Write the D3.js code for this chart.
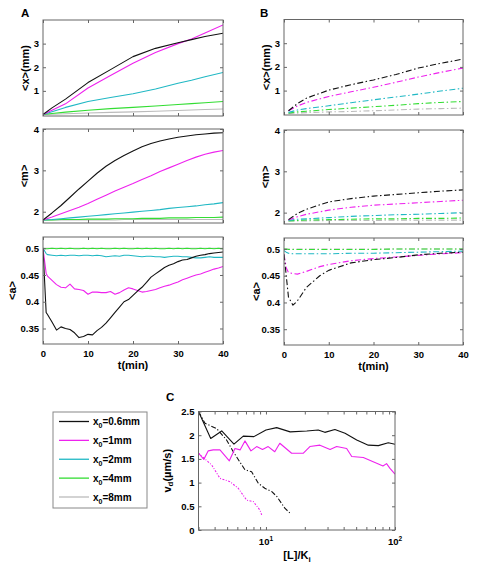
<!DOCTYPE html>
<html><head><meta charset="utf-8">
<script src="https://cdn.jsdelivr.net/npm/d3@7"></script>
<style>
body{margin:0;background:#fff}
svg text{font-family:"Liberation Sans",Arial,sans-serif;font-weight:bold;fill:#000}
</style>
</head><body><svg id="c" width="490" height="568"></svg>
<script>
// ---------------- DATA ----------------
const seriesNames = ["0.6mm", "1mm", "2mm", "4mm", "8mm"];

// Panel A: <x>(mm)
const tAx = [0, 2, 5, 10, 15, 20, 25, 30, 33, 36, 40];
const Ax_06 = [0, 0.28, 0.65, 1.35, 1.9, 2.45, 2.8, 3.04, 3.17, 3.3, 3.44];
const Ax_1  = [0, 0.18, 0.45, 1.12, 1.65, 2.17, 2.62, 3.0, 3.2, 3.45, 3.79];
const Ax_2  = [0, 0.12, 0.3, 0.55, 0.72, 0.88, 1.08, 1.32, 1.45, 1.6, 1.78];
const Ax_4  = [0, 0.04, 0.1, 0.18, 0.25, 0.3, 0.36, 0.42, 0.46, 0.5, 0.55];
const Ax_8  = [0, 0.01, 0.03, 0.06, 0.09, 0.11, 0.14, 0.17, 0.19, 0.21, 0.23];

// Panel A: <m>
const tAm = [0, 2, 4, 6, 8, 10, 12, 14, 16, 18, 20, 22, 24, 26, 28, 30, 32, 34, 36, 38, 40];
const Am_06 = [1.8, 1.97, 2.15, 2.35, 2.55, 2.74, 2.93, 3.1, 3.24, 3.36, 3.47, 3.57, 3.65, 3.71, 3.76, 3.8, 3.83, 3.86, 3.88, 3.9, 3.91];
const Am_1  = [1.8, 1.87, 1.95, 2.03, 2.11, 2.2, 2.3, 2.4, 2.5, 2.59, 2.68, 2.78, 2.87, 2.97, 3.06, 3.15, 3.24, 3.32, 3.39, 3.44, 3.48];
const Am_2  = [1.8, 1.81, 1.83, 1.85, 1.87, 1.89, 1.91, 1.93, 1.95, 1.97, 1.99, 2.01, 2.03, 2.05, 2.08, 2.1, 2.12, 2.14, 2.17, 2.19, 2.22];
const Am_4  = [1.8, 1.8, 1.81, 1.81, 1.81, 1.82, 1.82, 1.82, 1.83, 1.83, 1.83, 1.84, 1.84, 1.84, 1.85, 1.85, 1.85, 1.86, 1.86, 1.86, 1.87];
const Am_8  = [1.8, 1.8, 1.8, 1.8, 1.8, 1.8, 1.8, 1.8, 1.8, 1.81, 1.81, 1.81, 1.81, 1.81, 1.81, 1.81, 1.81, 1.81, 1.81, 1.81, 1.81];

// Panel A: <a>
const tAa = [0, 0.7, 1, 2, 3, 4, 5, 6, 7, 8, 9, 10, 11, 12, 13, 14, 15, 16, 17, 18, 19, 20, 21, 22, 23, 24, 25, 26, 27, 28, 29, 30, 31, 32, 33, 34, 35, 36, 37, 38, 39, 40];
const Aa_06 = [0.5, 0.38, 0.376, 0.362, 0.347, 0.353, 0.35, 0.348, 0.342, 0.333, 0.335, 0.339, 0.338, 0.346, 0.352, 0.36, 0.37, 0.38, 0.39, 0.4, 0.404, 0.412, 0.42, 0.427, 0.436, 0.446, 0.452, 0.458, 0.464, 0.468, 0.471, 0.475, 0.478, 0.479, 0.482, 0.485, 0.487, 0.488, 0.49, 0.491, 0.492, 0.493];
const Aa_1  = [0.5, 0.453, 0.448, 0.44, 0.432, 0.427, 0.426, 0.433, 0.424, 0.423, 0.421, 0.414, 0.418, 0.418, 0.417, 0.417, 0.419, 0.414, 0.417, 0.422, 0.426, 0.424, 0.421, 0.418, 0.419, 0.421, 0.423, 0.426, 0.429, 0.431, 0.434, 0.437, 0.441, 0.444, 0.447, 0.45, 0.452, 0.455, 0.458, 0.461, 0.463, 0.466];
const Aa_2  = [0.5, 0.49, 0.488, 0.487, 0.486, 0.487, 0.486, 0.487, 0.487, 0.486, 0.487, 0.487, 0.486, 0.487, 0.486, 0.484, 0.485, 0.486, 0.485, 0.487, 0.487, 0.486, 0.485, 0.484, 0.485, 0.485, 0.484, 0.484, 0.483, 0.484, 0.485, 0.485, 0.484, 0.484, 0.483, 0.482, 0.482, 0.483, 0.484, 0.483, 0.483, 0.483];
const Aa_4  = [0.5, 0.499, 0.499, 0.5, 0.499, 0.5, 0.499, 0.5, 0.499, 0.499, 0.5, 0.499, 0.5, 0.499, 0.5, 0.499, 0.499, 0.5, 0.499, 0.5, 0.499, 0.499, 0.5, 0.499, 0.5, 0.499, 0.5, 0.499, 0.499, 0.5, 0.499, 0.5, 0.499, 0.5, 0.499, 0.499, 0.5, 0.499, 0.5, 0.499, 0.5, 0.499];
const Aa_8  = tAa.map(() => 0.5);

// Panel B: <x>(mm)
const tBx = [1, 3, 5, 10, 15, 20, 25, 30, 35, 40];
const Bx_06 = [0.15, 0.45, 0.68, 1.02, 1.25, 1.45, 1.68, 1.95, 2.15, 2.33];
const Bx_1  = [0.15, 0.35, 0.5, 0.75, 0.95, 1.14, 1.35, 1.57, 1.77, 1.95];
const Bx_2  = [0.08, 0.18, 0.24, 0.36, 0.49, 0.61, 0.73, 0.85, 0.98, 1.1];
const Bx_4  = [0.05, 0.1, 0.13, 0.2, 0.26, 0.32, 0.38, 0.45, 0.5, 0.54];
const Bx_8  = [0.03, 0.05, 0.07, 0.1, 0.12, 0.15, 0.18, 0.22, 0.24, 0.26];

// Panel B: <m>
const tBm = [1, 3, 5, 10, 15, 20, 25, 30, 35, 40];
const Bm_06 = [1.83, 1.98, 2.08, 2.26, 2.34, 2.4, 2.44, 2.48, 2.52, 2.55];
const Bm_1  = [1.82, 1.9, 1.96, 2.06, 2.13, 2.18, 2.21, 2.24, 2.27, 2.3];
const Bm_2  = [1.81, 1.84, 1.85, 1.88, 1.91, 1.93, 1.95, 1.96, 1.98, 2.0];
const Bm_4  = [1.8, 1.81, 1.82, 1.83, 1.84, 1.85, 1.85, 1.86, 1.86, 1.87];
const Bm_8  = [1.8, 1.8, 1.8, 1.81, 1.81, 1.81, 1.82, 1.82, 1.82, 1.82];

// Panel B: <a>
const tBa = [0, 0.5, 1, 2, 3, 5, 8, 10, 15, 20, 25, 30, 35, 40];
const Ba_06 = [0.49, 0.45, 0.41, 0.395, 0.403, 0.428, 0.45, 0.46, 0.474, 0.48, 0.484, 0.489, 0.492, 0.494];
const Ba_1  = [0.49, 0.465, 0.456, 0.454, 0.453, 0.458, 0.467, 0.471, 0.478, 0.482, 0.485, 0.488, 0.491, 0.493];
const Ba_2  = [0.497, 0.494, 0.492, 0.491, 0.491, 0.491, 0.491, 0.491, 0.492, 0.492, 0.493, 0.494, 0.495, 0.496];
const Ba_4  = [0.5, 0.5, 0.499, 0.499, 0.499, 0.499, 0.499, 0.499, 0.499, 0.499, 0.5, 0.5, 0.5, 0.5];
const Ba_8  = [0.5, 0.5, 0.5, 0.5, 0.5, 0.5, 0.5, 0.5, 0.5, 0.5, 0.5, 0.5, 0.5, 0.5];

// Panel C: v_d vs [L]/K_i
const C_L_06 = [3, 3.73, 4.54, 5.65, 6.67, 8.07, 10, 12.1, 15.4, 20.7, 25.4, 28.6, 34.2, 41, 50.5, 62.1, 74.3, 88.7, 100];
const C_v_06 = [2.5, 1.93, 2.09, 1.81, 1.98, 1.97, 2.11, 2.16, 2.07, 2.09, 2.11, 2.06, 2.12, 2.04, 1.9, 1.79, 1.78, 1.84, 1.81];
const C_L_1  = [3, 3.3, 3.57, 3.9, 4.4, 5.2, 5.75, 6.3, 6.87, 7.65, 8.47, 9.4, 10.4, 11.7, 12.8, 15.8, 19.5, 21.9, 26.2, 31.4, 35.3, 42.2, 46.2, 56.8, 72.1, 80.7, 86, 91.4, 100];
const C_v_1  = [1.62, 1.49, 1.67, 1.69, 1.69, 1.46, 1.72, 1.69, 1.88, 1.67, 1.76, 1.7, 1.76, 1.65, 1.83, 1.62, 1.62, 1.76, 1.79, 1.7, 1.76, 1.72, 1.55, 1.53, 1.41, 1.35, 1.4, 1.3, 1.18];
const C_L_06b = [3, 3.37, 4.15, 4.95, 5.58, 6.87, 7.74, 8.7, 9.8, 11.1, 12.2, 14, 15.3];
const C_v_06b = [2.5, 2.25, 2.14, 1.9, 1.65, 1.27, 1.23, 0.99, 0.88, 0.81, 0.7, 0.46, 0.36];
const C_L_1b  = [3, 3.8, 4.4, 5.26, 6.1, 7.08, 7.98, 8.98, 9.26];
const C_v_1b  = [1.62, 1.37, 1.09, 1.02, 0.88, 0.63, 0.6, 0.42, 0.32];

const timeTicks = [0, 10, 20, 30, 40];
const ticksX = [1, 2, 3];
const ticksM = [2, 3, 4];
const ticksA = [0.35, 0.4, 0.45, 0.5];
const ticksV = [0, 0.5, 1, 1.5, 2, 2.5];
const ticksL = [3, 4, 5, 6, 7, 8, 9, 10, 20, 30, 40, 50, 60, 70, 80, 90, 100];
const labelsL = [10, 100];

// ---------------- STYLE ----------------
const colors = ["#111111", "#ee22ee", "#20b8c4", "#33dd33", "#bbbbbb"];
const frameColor = "#666";
const dashDot = "6,2.5,1.5,2.5";
const tickFont = 9.5;
const labelFont = 11;

const svg = d3.select("#c");

function panel(o) {
  const x = (o.xLog ? d3.scaleLog() : d3.scaleLinear()).domain(o.xDomain).range([o.l, o.r]);
  const y = d3.scaleLinear().domain(o.yDomain).range([o.b, o.t]);
  const g = svg.append("g");
  const id = "clip" + Math.round(o.l) + "_" + Math.round(o.t);
  g.append("clipPath").attr("id", id).append("rect")
    .attr("x", o.l).attr("y", o.t).attr("width", o.r - o.l).attr("height", o.b - o.t);
  const line = d3.line().x(d => x(d[0])).y(d => y(d[1]));
  const lg = g.append("g").attr("clip-path", `url(#${id})`);
  o.series.slice().reverse().forEach(s => {
    lg.append("path").datum(s.xs.map((v, i) => [v, s.ys[i]]))
      .attr("d", line).attr("fill", "none").attr("stroke", s.color)
      .attr("stroke-width", 1.1).attr("stroke-dasharray", s.dash || null)
      .attr("stroke-linejoin", "round");
  });
  g.append("rect").attr("x", o.l).attr("y", o.t).attr("width", o.r - o.l).attr("height", o.b - o.t)
    .attr("fill", "none").attr("stroke", frameColor).attr("stroke-width", 1);

  const styleAxis = sel => {
    sel.select(".domain").remove();
    sel.selectAll(".tick line").attr("stroke", frameColor);
    sel.selectAll("text").attr("font-size", tickFont).attr("font-family", null).attr("fill", "#000");
    sel.attr("font-family", null).attr("font-size", null);
  };
  const xt = o.xTickValues;
  g.append("g").attr("transform", `translate(0,${o.b})`)
    .call(d3.axisBottom(x).tickValues(xt).tickSizeInner(-3).tickSizeOuter(0).tickPadding(6)
      .tickFormat(o.xLabels ? (d => d) : ""))
    .call(styleAxis);
  g.append("g").attr("transform", `translate(0,${o.t})`)
    .call(d3.axisTop(x).tickValues(xt).tickSizeInner(-3).tickSizeOuter(0).tickFormat(""))
    .call(styleAxis);
  g.append("g").attr("transform", `translate(${o.l},0)`)
    .call(d3.axisLeft(y).tickValues(o.yTicks).tickSizeInner(-3).tickSizeOuter(0).tickPadding(4)
      .tickFormat(d => String(d)))
    .call(styleAxis);
  g.append("g").attr("transform", `translate(${o.r},0)`)
    .call(d3.axisRight(y).tickValues(o.yTicks).tickSizeInner(-3).tickSizeOuter(0).tickFormat(""))
    .call(styleAxis);

  if (o.yLabel) {
    const t = g.append("text").attr("transform", `translate(${o.yLabelX},${(o.t + o.b) / 2}) rotate(-90)`)
      .attr("text-anchor", "middle").attr("dominant-baseline", "central").attr("font-size", labelFont);
    o.yLabel(t);
  }
  if (o.xLabel) {
    g.append("text").attr("x", (o.l + o.r) / 2).attr("y", o.xLabelY).attr("text-anchor", "middle")
      .attr("font-size", labelFont).text(o.xLabel);
  }
  return {x, y, g};
}

function mk(xsArr, ysArr, dash) {
  return ysArr.map((ys, i) => ({xs: xsArr, ys, color: colors[i], dash}));
}

const xLabelText = t => t.text("<x>(mm)");
const mLabelText = t => t.text("<m>");
const aLabelText = t => t.text("<a>");

// Panel A
panel({l: 43, r: 223, t: 20, b: 116, xDomain: [0, 40], yDomain: [-0.064, 4.0],
  xTickValues: timeTicks, yTicks: ticksX, xLabels: false,
  series: mk(tAx, [Ax_06, Ax_1, Ax_2, Ax_4, Ax_8]), yLabel: xLabelText, yLabelX: 25});
panel({l: 43, r: 223, t: 129, b: 223, xDomain: [0, 40], yDomain: [1.727, 4.0],
  xTickValues: timeTicks, yTicks: ticksM, xLabels: false,
  series: mk(tAm, [Am_06, Am_1, Am_2, Am_4, Am_8]), yLabel: mLabelText, yLabelX: 24});
panel({l: 43, r: 223, t: 237, b: 344, xDomain: [0, 40], yDomain: [0.321, 0.521],
  xTickValues: timeTicks, yTicks: ticksA, xLabels: true,
  series: mk(tAa, [Aa_06, Aa_1, Aa_2, Aa_4, Aa_8]), yLabel: aLabelText, yLabelX: 12,
  xLabel: "t(min)", xLabelY: 369});

// Panel B
panel({l: 284, r: 463, t: 19.5, b: 115, xDomain: [0, 40], yDomain: [-0.03, 4.0],
  xTickValues: timeTicks, yTicks: ticksX, xLabels: false,
  series: mk(tBx, [Bx_06, Bx_1, Bx_2, Bx_4, Bx_8], dashDot), yLabel: xLabelText, yLabelX: 266});
panel({l: 284, r: 463, t: 130, b: 224, xDomain: [0, 40], yDomain: [1.725, 4.0],
  xTickValues: timeTicks, yTicks: ticksM, xLabels: false,
  series: mk(tBm, [Bm_06, Bm_1, Bm_2, Bm_4, Bm_8], dashDot), yLabel: mLabelText, yLabelX: 265});
panel({l: 284, r: 463, t: 238, b: 345, xDomain: [0, 40], yDomain: [0.3205, 0.5205],
  xTickValues: timeTicks, yTicks: ticksA, xLabels: true,
  series: mk(tBa, [Ba_06, Ba_1, Ba_2, Ba_4, Ba_8], dashDot), yLabel: aLabelText, yLabelX: 256,
  xLabel: "t(min)", xLabelY: 370});

// Panel C
const pc = panel({l: 198.5, r: 395, t: 411.5, b: 530, xLog: true, xDomain: [3, 100], yDomain: [0, 2.5],
  xTickValues: ticksL, yTicks: ticksV, xLabels: false,
  series: [
    {xs: C_L_06, ys: C_v_06, color: colors[0]},
    {xs: C_L_1, ys: C_v_1, color: colors[1]},
    {xs: C_L_06b, ys: C_v_06b, color: colors[0], dash: "5,2,1.2,2"},
    {xs: C_L_1b, ys: C_v_1b, color: colors[1], dash: "2,1.5,1,1.5"}
  ],
  yLabel: t => { t.append("tspan").text("v");
                 t.append("tspan").attr("font-size", 8).attr("dy", 3).text("d");
                 t.append("tspan").attr("dy", -3).text("(\u00b5m/s)"); },
  yLabelX: 167});
labelsL.forEach(v => {
  const t = pc.g.append("text").attr("x", pc.x(v)).attr("y", 545).attr("text-anchor", "middle")
    .attr("font-size", tickFont);
  t.append("tspan").text("10");
  t.append("tspan").attr("font-size", 6.5).attr("dy", -4).text(String(Math.round(Math.log10(v))));
});
{
  const t = svg.append("text").attr("x", 297).attr("y", 559).attr("text-anchor", "middle").attr("font-size", labelFont);
  t.append("tspan").text("[L]/K");
  t.append("tspan").attr("font-size", 8).attr("dy", 3).text("i");
}

// Panel letters
svg.append("text").attr("x", 21).attr("y", 17).attr("font-size", 11.5).text("A");
svg.append("text").attr("x", 260).attr("y", 17).attr("font-size", 11.5).text("B");
svg.append("text").attr("x", 166).attr("y", 401).attr("font-size", 11.5).text("C");

// Legend
const leg = svg.append("g");
leg.append("rect").attr("x", 53).attr("y", 412).attr("width", 94).attr("height", 96)
  .attr("fill", "#fff").attr("stroke", "#888");
const legY = d3.scalePoint().domain(seriesNames).range([421.5, 497]);
seriesNames.forEach((n, i) => {
  const yy = legY(n);
  leg.append("line").attr("x1", 59).attr("x2", 89).attr("y1", yy).attr("y2", yy)
    .attr("stroke", colors[i]).attr("stroke-width", 1.3);
  const t = leg.append("text").attr("x", 93).attr("y", yy + 3.5).attr("font-size", 10);
  t.append("tspan").text("x");
  t.append("tspan").attr("font-size", 7).attr("dy", 3).text("0");
  t.append("tspan").attr("dy", -3).text("=" + n);
});
</script>
</body></html>
